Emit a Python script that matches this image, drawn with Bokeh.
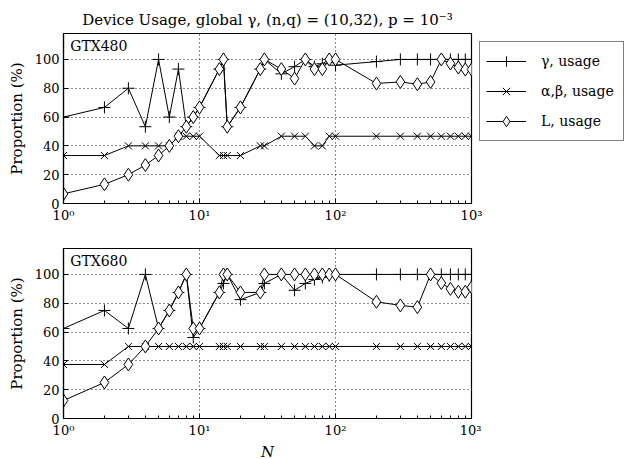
from bokeh.plotting import figure
from bokeh.layouts import column
from bokeh.models import (Range1d, FixedTicker, Legend,
                          LegendItem, Label, ColumnDataSource)
from bokeh.embed import file_html
from bokeh.resources import INLINE

# ---------------- data ----------------
N = [1, 2, 3, 4, 5, 6, 7, 8, 9, 10, 14, 15, 16, 20, 28, 30, 40, 50, 60, 70,
     80, 90, 100, 200, 300, 400, 500, 600, 700, 800, 900, 1000]

gamma_480 = [60, 66.7, 80, 53.3, 100, 60, 93.3, 53.3, 60, 66.7, 93.3, 100,
             53.3, 66.7, 93.3, 100, 90, 95, 100, 95, 97, 100, 96, 98.5,
             100, 100, 100, 100, 100, 100, 100, 100]
ab_480 = [33.3, 33.3, 40, 40, 40, 40, 46.7, 46.7, 46.7, 46.7, 33.3, 33.3,
          33.3, 33.3, 40, 40, 46.7, 46.7, 46.7, 40, 40, 46.7, 46.7, 46.7,
          46.7, 46.7, 46.7, 46.7, 46.7, 46.7, 46.7, 46.7]
L_480 = [6.7, 13.3, 20, 26.7, 33.3, 40, 46.7, 53.3, 60, 66.7, 93.3, 100,
         53.3, 66.7, 93.3, 100, 93.3, 86.7, 100, 93.3, 93.3, 100, 100, 83.3,
         84.4, 82.8, 84.4, 100, 97.2, 94.4, 93, 93]

gamma_680 = [62.5, 75, 62.5, 100, 62.5, 75, 87.5, 100, 56.25, 62.5, 87.5,
             93.75, 100, 82.5, 87.5, 93.75, 100, 89, 93.75, 96.5, 98, 99,
             100, 100, 100, 100, 100, 100, 100, 100, 100, 100]
ab_680 = [37.5, 37.5, 50, 50, 50, 50, 50, 50, 50, 50, 50, 50, 50, 50, 50,
          50, 50, 50, 50, 50, 50, 50, 50, 50, 50, 50, 50, 50, 50, 50, 50, 50]
L_680 = [12.5, 25, 37.5, 50, 62.5, 75, 87.5, 100, 62.5, 62.5, 87.5, 100,
         100, 87.5, 87.5, 100, 100, 100, 100, 100, 100, 100, 100, 81, 78.5,
         77.3, 100, 94, 90, 88, 88, 91]

x_major = [1, 10, 100, 1000]
x_minor = [2, 3, 4, 5, 6, 7, 8, 9, 20, 30, 40, 50, 60, 70, 80, 90,
           200, 300, 400, 500, 600, 700, 800, 900]
x_labels = {1: "10⁰", 10: "10¹", 100: "10²", 1000: "10³"}
y_major = [0, 20, 40, 60, 80, 100]

series_labels = ["γ, usage", "α,β, usage", "L, usage"]
devices = ["GTX480", "GTX680"]
title_text = "Device Usage, global γ, (n,q) = (10,32), p = 10⁻³"

FONT = "DejaVu Serif"


def style_axis(ax):
    ax.axis_line_color = "black"
    ax.axis_line_width = 1.2
    ax.major_tick_in = 5
    ax.major_tick_out = 0
    ax.minor_tick_in = 3
    ax.minor_tick_out = 0
    ax.major_tick_line_color = "black"
    ax.minor_tick_line_color = "black"
    ax.major_label_text_font = FONT
    ax.major_label_text_color = "black"
    ax.major_label_text_font_size = "13px"
    ax.major_label_standoff = 4
    ax.axis_label_text_font = FONT
    ax.axis_label_text_color = "black"
    ax.axis_label_text_font_style = "normal"
    ax.axis_label_text_font_size = "15px"


def make_fig(top, bottom, right, gam, ab, L, device, title=None, xlabel=None):
    p = figure(frame_width=408, frame_height=170, x_axis_type="log",
               x_range=Range1d(1, 1000), y_range=Range1d(0, 118),
               output_backend="svg", toolbar_location=None,
               min_border_left=63, min_border_right=right,
               min_border_top=top, min_border_bottom=bottom,
               title=title)
    p.background_fill_color = "white"
    p.border_fill_color = "white"
    p.outline_line_color = "black"
    p.outline_line_width = 1.2
    if title:
        p.title.text_font = FONT
        p.title.text_font_size = "15px"
        p.title.text_font_style = "normal"
        p.title.text_color = "black"
        p.title.align = "center"

    xa = p.xaxis[0]
    xa.ticker = FixedTicker(ticks=x_major, minor_ticks=x_minor)
    xa.major_label_overrides = x_labels
    style_axis(xa)
    if xlabel:
        xa.axis_label = xlabel
        xa.axis_label_text_font_style = "italic"
        xa.axis_label_standoff = 2
    ya = p.yaxis[0]
    ya.ticker = FixedTicker(ticks=y_major, minor_ticks=[])
    ya.axis_label = "Proportion (%)"
    ya.axis_label_standoff = 6
    style_axis(ya)

    p.xgrid.ticker = FixedTicker(ticks=[10, 100])
    p.ygrid.ticker = FixedTicker(ticks=[20, 40, 60, 80, 100])
    for g in (p.xgrid, p.ygrid):
        g.grid_line_color = "black"
        g.grid_line_dash = "1 3"
        g.grid_line_width = 1
        g.grid_line_alpha = 0.9

    src = ColumnDataSource(dict(N=N, g=gam, ab=ab, L=L))
    l1 = p.line("N", "g", source=src, line_color="black", line_width=1)
    s1 = p.scatter("N", "g", source=src, marker="cross", size=12,
                   line_color="black", line_width=1)
    l2 = p.line("N", "ab", source=src, line_color="black", line_width=1)
    s2 = p.scatter("N", "ab", source=src, marker="x", size=10,
                   line_color="black", line_width=1)
    l3 = p.line("N", "L", source=src, line_color="black", line_width=1)
    s3 = p.scatter("N", "L", source=src, marker="diamond", size=13,
                   line_color="black", fill_color="white", line_width=1)

    p.add_layout(Label(x=1.12, y=109, text=device, text_font=FONT,
                       text_font_size="14px", text_baseline="middle",
                       text_color="black"))
    return p, [(l1, s1), (l2, s2), (l3, s3)]


p1, rends = make_fig(33, 25, 10, gamma_480, ab_480, L_480, devices[0],
                     title=title_text)
p2, _ = make_fig(20, 41, 10, gamma_680, ab_680, L_680, devices[1],
                 xlabel="N")

legend = Legend(items=[LegendItem(label=lab, renderers=list(r))
                       for lab, r in zip(series_labels, rends)],
                location="top_left")
legend.label_text_font = FONT
legend.label_text_font_size = "14px"
legend.label_text_color = "black"
legend.glyph_width = 40
legend.glyph_height = 26
legend.label_height = 26
legend.label_width = 76
legend.label_standoff = 15
legend.spacing = 4
legend.padding = 6
legend.margin = 8
legend.border_line_color = "black"
legend.border_line_width = 1.2
legend.background_fill_color = "white"
legend.background_fill_alpha = 1
p1.add_layout(legend, "right")

layout = column(p1, p2, spacing=0)
open("out.html", "w").write(file_html(layout, INLINE))
